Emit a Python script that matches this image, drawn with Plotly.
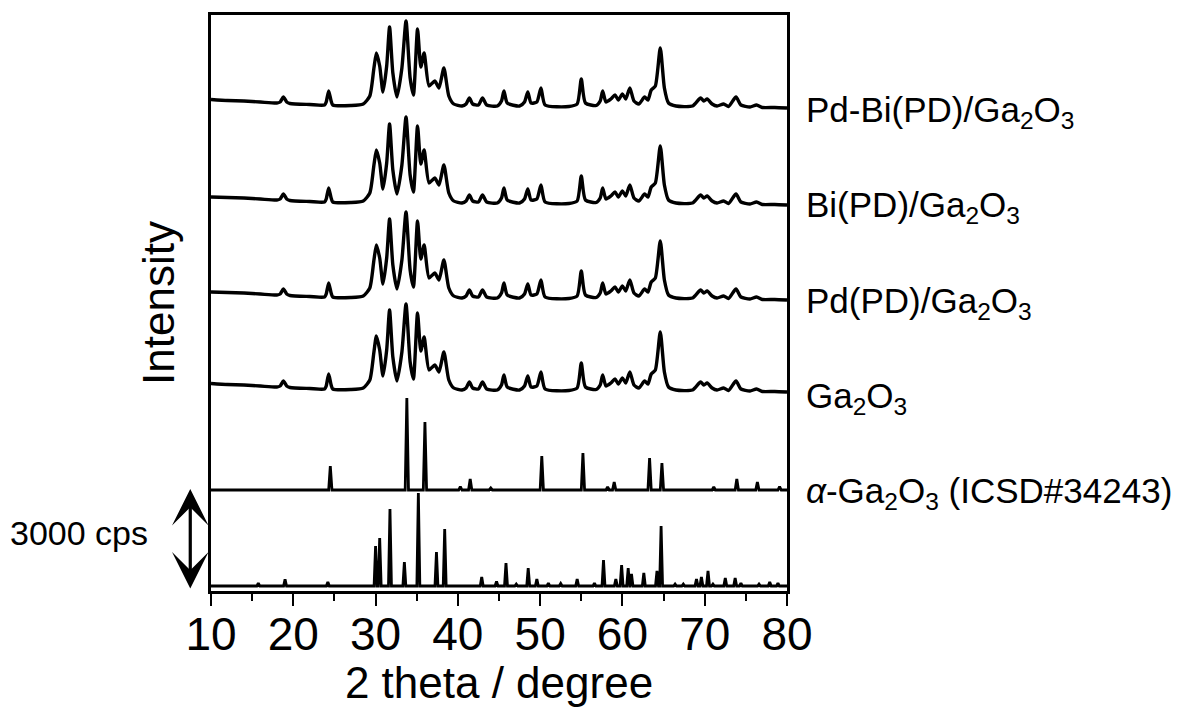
import plotly.graph_objects as go

# ---------------- data ----------------
# shared 2theta grid for the measured patterns
exp_2theta = [
    10.0, 12.0, 14.0, 16.0, 18.0, 18.4, 18.8, 19.2, 19.6, 22.0,
    23.8, 24.0, 24.3, 24.6, 24.8, 27.0, 28.5, 29.3, 29.8, 30.1,
    30.5, 30.9, 31.35, 31.7, 32.1, 32.6, 33.2, 33.7, 34.2, 34.6,
    35.1, 35.5, 35.9, 36.5, 37.2, 37.7, 38.3, 38.9, 39.5, 40.5,
    41.0, 41.4, 41.8, 42.5, 43.0, 43.5, 44.8, 45.3, 45.6, 46.0,
    47.5, 48.1, 48.5, 48.9, 49.6, 50.1, 50.6, 53.5, 54.5, 55.0,
    55.5, 56.8, 57.3, 57.6, 58.0, 58.6, 59.1, 59.5, 60.0, 60.4,
    60.9, 61.4, 62.0, 62.7, 63.1, 63.5, 64.0, 64.6, 65.1, 65.6,
    66.5, 68.5, 69.5, 69.9, 70.3, 70.9, 71.5, 72.3, 72.9, 73.8,
    74.4, 75.5, 76.3, 77.0, 78.5, 80.0,
]

pd_bi_int = [
    255, 225, 210, 180, 150, 180, 330, 180, 135, 105,
    90, 180, 510, 210, 90, 75, 120, 360, 1200, 1650,
    1260, 480, 1260, 2430, 1050, 330, 1200, 2610, 900, 390,
    2370, 1230, 1650, 660, 810, 600, 1200, 360, 120, 60,
    120, 300, 120, 90, 300, 90, 60, 210, 510, 150,
    60, 180, 480, 150, 180, 600, 90, 45, 120, 870,
    150, 75, 210, 510, 180, 270, 390, 240, 420, 270,
    600, 210, 120, 330, 240, 540, 660, 1800, 600, 150,
    60, 60, 300, 210, 270, 120, 60, 120, 45, 330,
    90, 30, 90, 15, 15, 0,
]

bi_int = [
    240, 225, 210, 180, 150, 180, 330, 180, 135, 105,
    90, 180, 510, 210, 90, 75, 120, 360, 1200, 1650,
    1260, 480, 1260, 2430, 1050, 330, 1200, 2640, 900, 390,
    2370, 1230, 1650, 660, 810, 600, 1200, 360, 120, 60,
    120, 300, 120, 90, 300, 90, 60, 210, 510, 150,
    60, 180, 480, 150, 180, 600, 90, 45, 120, 870,
    150, 75, 210, 510, 180, 270, 390, 240, 420, 270,
    600, 210, 120, 330, 240, 540, 660, 1770, 600, 150,
    60, 60, 300, 210, 270, 120, 60, 120, 45, 330,
    90, 30, 90, 15, 15, 0,
]

pd_int = [
    240, 225, 210, 180, 150, 180, 330, 180, 135, 105,
    90, 180, 510, 210, 90, 75, 120, 360, 1200, 1650,
    1260, 480, 1260, 2430, 1050, 330, 1200, 2640, 900, 390,
    2370, 1230, 1650, 660, 810, 600, 1200, 360, 120, 60,
    120, 300, 120, 90, 300, 90, 60, 210, 510, 150,
    60, 180, 480, 150, 180, 600, 90, 45, 120, 870,
    150, 75, 210, 510, 180, 270, 390, 240, 420, 270,
    600, 210, 120, 330, 240, 540, 660, 1770, 600, 150,
    60, 60, 300, 210, 270, 120, 60, 120, 45, 330,
    90, 30, 90, 15, 15, 0,
]

ga2o3_int = [
    255, 225, 210, 180, 150, 180, 330, 180, 135, 105,
    90, 180, 540, 210, 90, 75, 120, 360, 1200, 1680,
    1260, 480, 1260, 2460, 1050, 330, 1200, 2640, 900, 390,
    2370, 1230, 1650, 660, 810, 600, 1200, 360, 120, 60,
    120, 300, 120, 90, 300, 90, 60, 210, 510, 150,
    60, 180, 480, 150, 180, 600, 90, 45, 120, 870,
    150, 75, 210, 510, 180, 270, 390, 240, 420, 270,
    600, 210, 120, 330, 240, 540, 660, 1800, 600, 150,
    60, 60, 300, 210, 270, 120, 60, 120, 45, 330,
    90, 30, 90, 15, 15, 0,
]

# reference stick patterns (peak position, intensity)
alpha_2theta = [24.5, 33.8, 36.0, 40.3, 41.5, 44.0, 50.2, 55.2, 58.2, 59.0,
                63.3, 64.8, 71.1, 73.9, 76.4, 79.1]
alpha_int = [720, 2760, 2040, 105, 330, 60, 1020, 1110, 90, 240,
             960, 810, 90, 330, 240, 105]

beta_2theta = [15.75, 19.0, 24.2, 30.0, 30.5, 31.75, 33.5, 35.2, 37.4, 38.4,
               42.9, 44.7, 45.85, 47.1, 48.55, 49.6, 51.0, 52.5, 54.5, 56.6,
               57.7, 59.2, 59.9, 60.7, 61.1, 62.6, 64.2, 64.7, 66.4, 67.4,
               69.0, 69.6, 70.4, 71.0, 72.5, 73.7, 74.4, 76.6, 77.9, 78.9]
beta_int = [90, 200, 120, 1200, 1440, 2310, 720, 2790, 1020, 1710,
            270, 140, 690, 60, 540, 210, 90, 75, 210, 90,
            780, 210, 630, 540, 360, 390, 450, 1800, 60, 60,
            210, 270, 450, 60, 240, 240, 90, 60, 120, 90]

labels = ["Pd-Bi(PD)/Ga<sub>2</sub>O<sub>3</sub>",
          "Bi(PD)/Ga<sub>2</sub>O<sub>3</sub>",
          "Pd(PD)/Ga<sub>2</sub>O<sub>3</sub>",
          "Ga<sub>2</sub>O<sub>3</sub>",
          "<i>α</i>-Ga<sub>2</sub>O<sub>3</sub> (ICSD#34243)",
          "<i>β</i>-Ga<sub>2</sub>O<sub>3</sub> (ICSD#34243)"]

x_ticks = [10, 20, 30, 40, 50, 60, 70, 80]

# ---------------- layout constants ----------------
offsets = [14490, 11580, 8730, 5970, 3030, 150]
label_y = [14370, 11520, 8640, 5790, 2940, -30]
Y_MAX = 17280
FONT = "Liberation Sans, Arial, sans-serif"


def stick_profile(pos, inten, hw):
    xs, ys = [10.0], [0.0]
    for p, h in zip(pos, inten):
        xs += [p - hw, p, p + hw]
        ys += [0.0, h, 0.0]
    xs.append(80.0)
    ys.append(0.0)
    return xs, ys


fig = go.Figure()

exp_sets = [pd_bi_int, bi_int, pd_int, ga2o3_int]
for k, data in enumerate(exp_sets):
    fig.add_trace(go.Scatter(
        x=exp_2theta, y=[v + offsets[k] for v in data], mode="lines",
        line=dict(color="black", width=3.4, shape="spline", smoothing=0.6),
        showlegend=False, hoverinfo="skip"))

ax_, ay_ = stick_profile(alpha_2theta, alpha_int, 0.2)
fig.add_trace(go.Scatter(x=ax_, y=[v + offsets[4] for v in ay_], mode="lines",
                         line=dict(color="black", width=2.8), showlegend=False))
bx_, by_ = stick_profile(beta_2theta, beta_int, 0.18)
fig.add_trace(go.Scatter(x=bx_, y=[v + offsets[5] for v in by_], mode="lines",
                         line=dict(color="black", width=2.8), showlegend=False))

annotations = []
for txt, yv in zip(labels, label_y):
    annotations.append(dict(text=txt, xref="paper", yref="y", x=1.0295, y=yv,
                            xanchor="left", yanchor="middle", showarrow=False,
                            font=dict(family=FONT, size=35, color="black")))

annotations.append(dict(text="3000 cps", xref="paper", yref="y", x=-0.106, y=1740,
                        xanchor="right", yanchor="middle", showarrow=False,
                        font=dict(family=FONT, size=34, color="black")))
annotations.append(dict(text="", xref="paper", yref="y", x=-0.036, y=3060,
                        ax=0, ay=101, showarrow=True, arrowside="end+start",
                        arrowhead=3, startarrowhead=3, arrowsize=1.9, startarrowsize=1.9,
                        arrowwidth=3.2, arrowcolor="black", standoff=0, startstandoff=0))

fig.update_layout(
    width=1183, height=707,
    margin=dict(l=211, r=396, t=15, b=116),
    paper_bgcolor="white", plot_bgcolor="white",
    font=dict(family=FONT, color="black"),
    annotations=annotations,
)
fig.update_xaxes(
    range=[10, 80], tickvals=x_ticks, ticks="outside", ticklen=12, tickwidth=2,
    tickcolor="black", tickfont=dict(size=46, family=FONT), ticklabelstandoff=-11,
    minor=dict(dtick=5, ticks="outside", ticklen=7, tickwidth=2, tickcolor="black"),
    showline=True, mirror=True, linecolor="black", linewidth=2.5, showgrid=False,
    zeroline=False,
    title=dict(text="2 theta / degree", font=dict(size=44, family=FONT), standoff=1),
)
fig.update_yaxes(
    range=[0, Y_MAX], showticklabels=False, ticks="", showline=True, mirror=True,
    linecolor="black", linewidth=2.5, showgrid=False, zeroline=False,
    title=dict(text="Intensity", font=dict(size=44, family=FONT), standoff=20),
)

fig.write_html("out.html")
